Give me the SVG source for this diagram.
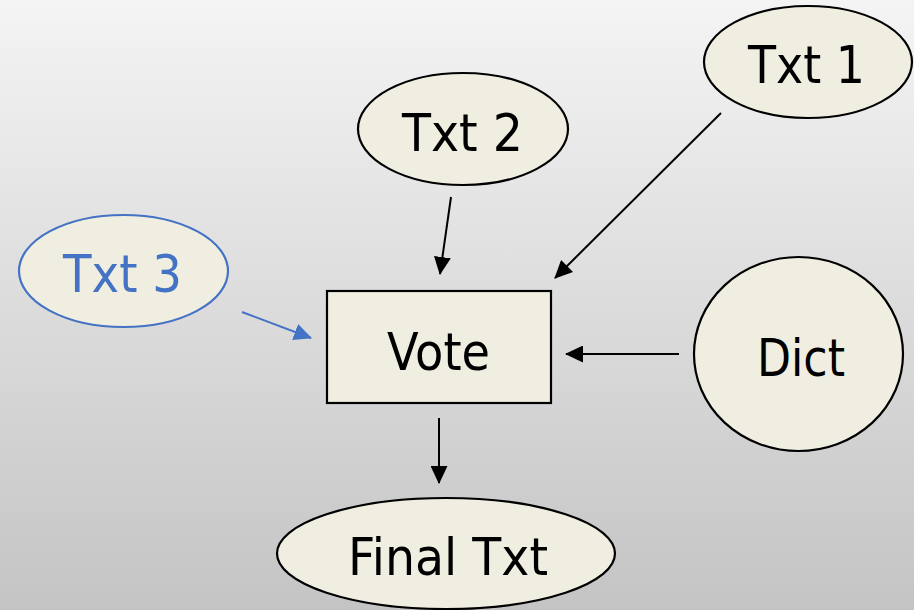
<svg xmlns="http://www.w3.org/2000/svg" width="914" height="610" viewBox="0 0 914 610">
  <defs>
    <linearGradient id="bg" x1="0" y1="0" x2="0" y2="1">
      <stop offset="0" stop-color="#f4f4f4"/>
      <stop offset="1" stop-color="#c4c4c4"/>
    </linearGradient>
    <marker id="arrow" viewBox="0 0 18 17" refX="17" refY="8.5" markerWidth="18" markerHeight="17" markerUnits="userSpaceOnUse" orient="auto">
      <path d="M0,0 L18,8.5 L0,17 Z" fill="#000"/>
    </marker>
    <marker id="arrow-blue" viewBox="0 0 18 17" refX="17" refY="8.5" markerWidth="18" markerHeight="17" markerUnits="userSpaceOnUse" orient="auto">
      <path d="M0,0 L18,8.5 L0,17 Z" fill="#4472c4"/>
    </marker>
  </defs>
  <style>
    .shape { fill: #f0eee0; stroke: #000; stroke-width: 2.2; }
    .shape.blue { stroke: #4472c4; }
    .label { font-family: "DejaVu Sans", "Liberation Sans", sans-serif; font-size: 52px; fill: #000; }
    .label.blue { fill: #4472c4; }
    .edge { stroke: #000; stroke-width: 2; fill: none; marker-end: url(#arrow); }
    .edge.blue { stroke: #4472c4; marker-end: url(#arrow-blue); }
  </style>

  <rect x="0" y="0" width="914" height="610" fill="url(#bg)"/>

  <g id="connectors">
    <line class="edge blue" x1="242" y1="312" x2="311" y2="338"/>
    <line class="edge" x1="451" y1="197" x2="440" y2="274"/>
    <line class="edge" x1="721" y1="113" x2="555" y2="278"/>
    <line class="edge" x1="679" y1="354" x2="566" y2="354"/>
    <line class="edge" x1="439" y1="418" x2="439" y2="483"/>
  </g>

  <g id="txt1">
    <ellipse class="shape" cx="808" cy="62" rx="104" ry="56"/>
    <text class="label" x="748" y="83" textLength="117" lengthAdjust="spacingAndGlyphs">Txt 1</text>
  </g>

  <g id="txt2">
    <ellipse class="shape" cx="463" cy="129" rx="105" ry="56"/>
    <text class="label" x="402" y="151" textLength="121" lengthAdjust="spacingAndGlyphs">Txt 2</text>
  </g>

  <g id="txt3">
    <ellipse class="shape blue" cx="123.5" cy="271" rx="104.5" ry="56"/>
    <text class="label blue" x="63" y="292" textLength="119" lengthAdjust="spacingAndGlyphs">Txt 3</text>
  </g>

  <g id="vote">
    <rect class="shape" x="327" y="291" width="224" height="112"/>
    <text class="label" x="387" y="370" textLength="103" lengthAdjust="spacingAndGlyphs">Vote</text>
  </g>

  <g id="dict">
    <ellipse class="shape" cx="798.5" cy="354" rx="104.5" ry="97"/>
    <text class="label" x="757" y="376" textLength="88" lengthAdjust="spacingAndGlyphs">Dict</text>
  </g>

  <g id="final-txt">
    <ellipse class="shape" cx="446" cy="553.5" rx="169" ry="55.5"/>
    <text class="label" x="348" y="575" textLength="200" lengthAdjust="spacingAndGlyphs">Final Txt</text>
  </g>
</svg>
